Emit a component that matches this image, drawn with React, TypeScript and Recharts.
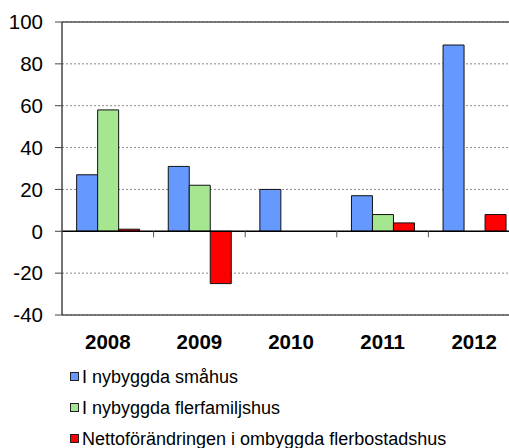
import React from 'react';
import { BarChart, Bar, XAxis, YAxis, CartesianGrid, ReferenceLine } from 'recharts';

const years = ['2008', '2009', '2010', '2011', '2012'];
const smahus = [27, 31, 20, 17, 89];
const flerfamiljshus = [58, 22, null, 8, null];
const ombyggda = [1, -25, null, 4, 8];
const yTicks = [-40, -20, 0, 20, 40, 60, 80, 100];

const series = [
  { key: 'smahus', name: 'I nybyggda småhus', color: '#6699ff' },
  { key: 'flerfamiljshus', name: 'I nybyggda flerfamiljshus', color: '#a6e691' },
  { key: 'ombyggda', name: 'Nettoförändringen i ombyggda flerbostadshus', color: '#ff0000' },
];

const data = years.map((year, i) => ({
  year,
  smahus: smahus[i],
  flerfamiljshus: flerfamiljshus[i],
  ombyggda: ombyggda[i],
}));

const font = '"Liberation Sans", Arial, sans-serif';

// layout of the plot area
const chartW = 521;
const chartH = 360;
const margin = { top: 22, right: 1, bottom: 0, left: 0 };
const yAxisW = 62;
const xAxisH = 45;
const plotW = chartW - margin.left - margin.right - yAxisW;
const plotH = chartH - margin.top - margin.bottom - xAxisH;
const yMin = yTicks[0];
const yMax = yTicks[yTicks.length - 1];
const zeroY = margin.top + (plotH * yMax) / (yMax - yMin);
const catW = plotW / years.length;

function YearTick({ x, y, payload }: any) {
  return (
    <g>
      <line x1={x + catW / 2} x2={x + catW / 2} y1={zeroY} y2={zeroY + 6} stroke="#555" />
      <text x={x} y={y} dy="0.71em" textAnchor="middle" fontFamily={font} fontSize={20.5} fontWeight={700} fill="#000">
        {payload.value}
      </text>
    </g>
  );
}

function ChartLegend() {
  return (
    <div style={{ position: 'absolute', left: 70, top: 361, fontFamily: font, fontSize: 18, color: '#000' }}>
      {series.map((s) => (
        <div key={s.key} style={{ display: 'flex', alignItems: 'center', height: 31, lineHeight: '20px' }}>
          <span
            style={{
              width: 7,
              height: 7,
              background: s.color,
              border: '1px solid #222',
              marginRight: 3,
              display: 'inline-block',
            }}
          />
          <span style={{ whiteSpace: 'nowrap' }}>{s.name}</span>
        </div>
      ))}
    </div>
  );
}

export default function App() {
  return (
    <div style={{ position: 'absolute', left: 0, top: 0, width: 509, height: 448, overflow: 'hidden', background: '#fff' }}>
      <BarChart width={chartW} height={chartH} data={data} margin={margin} barCategoryGap="16%" barGap={0}>
        <CartesianGrid vertical={false} stroke="#8a8a8a" strokeDasharray="2 2" />
        <XAxis
          dataKey="year"
          height={xAxisH}
          tick={<YearTick />}
          tickLine={false}
          tickSize={0}
          tickMargin={19}
          axisLine={{ stroke: '#555', strokeWidth: 1.5 }}
          interval={0}
        />
        <YAxis
          width={yAxisW}
          domain={[yMin, yMax]}
          ticks={yTicks}
          interval={0}
          tickSize={7}
          tickMargin={12}
          tick={{ fontFamily: font, fontSize: 20.5, fill: '#000' }}
          tickLine={{ stroke: '#444' }}
          axisLine={{ stroke: '#444', strokeWidth: 1.5 }}
        />
        <ReferenceLine y={yMax} stroke="#555" strokeWidth={1.5} />
        {series.map((s) => (
          <Bar key={s.key} dataKey={s.key} name={s.name} fill={s.color} stroke="#111" strokeWidth={1} isAnimationActive={false} />
        ))}
        <ReferenceLine y={0} stroke="#000" strokeWidth={1.5} />
      </BarChart>
      <ChartLegend />
    </div>
  );
}
